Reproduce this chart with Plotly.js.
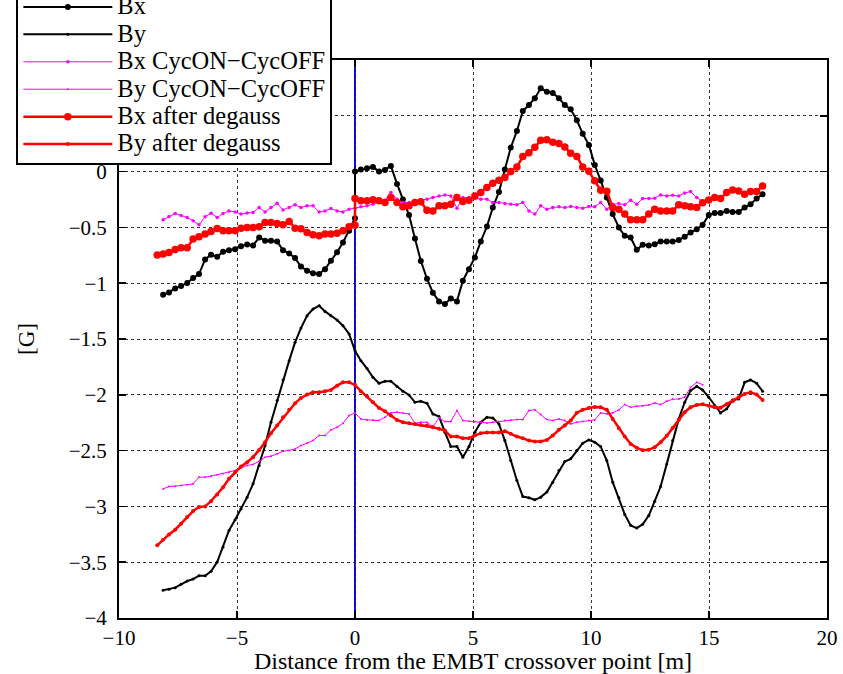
<!DOCTYPE html>
<html>
<head>
<meta charset="utf-8">
<script src="https://cdn.plot.ly/plotly-3.0.1.min.js"></script>
<style>html,body{margin:0;padding:0;background:#fff;}#chart{width:843px;height:674px;}</style>
</head>
<body>
<div id="chart"></div>
<script>
// Shared sampling positions along the beam line [m]
const xGrid = [-8.13,-7.88,-7.62,-7.37,-7.11,-6.86,-6.61,-6.35,-6.10,-5.84,-5.59,-5.34,-5.08,-4.83,-4.57,-4.32,-4.06,-3.81,-3.56,-3.30,-3.05,-2.79,-2.54,-2.29,-2.03,-1.78,-1.52,-1.27,-1.02,-0.76,-0.51,-0.25,0.00,0.25,0.51,0.76,1.02,1.27,1.52,1.78,2.03,2.29,2.54,2.79,3.05,3.30,3.56,3.81,4.06,4.32,4.57,4.83,5.08,5.33,5.59,5.84,6.10,6.35,6.60,6.86,7.11,7.37,7.62,7.87,8.13,8.38,8.64,8.89,9.14,9.40,9.65,9.91,10.16,10.41,10.67,10.92,11.18,11.43,11.68,11.94,12.19,12.45,12.70,12.95,13.21,13.46,13.72,13.97,14.22,14.48,14.73,14.99,15.24,15.49,15.75,16.00,16.26,16.51,16.76,17.02,17.27];
const xLead = [-8.38];
const crossoverX = 0;

// Bx (black, before x=0 and after x=0)
const bxLeft = [-1.103,-1.083,-1.047,-1.026,-0.999,-0.954,-0.918,-0.787,-0.745,-0.763,-0.718,-0.704,-0.695,-0.668,-0.653,-0.662,-0.590,-0.620,-0.620,-0.626,-0.704,-0.733,-0.775,-0.850,-0.889,-0.910,-0.918,-0.874,-0.799,-0.722,-0.635,-0.531,-0.417];
const bxRight = [0.0,0.018,0.03,0.042,0.0,0.015,0.051,-0.11,-0.25,-0.39,-0.60,-0.80,-0.96,-1.085,-1.163,-1.187,-1.136,-1.163,-0.978,-0.874,-0.769,-0.626,-0.492,-0.322,-0.182,0.018,0.215,0.364,0.543,0.597,0.657,0.746,0.716,0.704,0.657,0.597,0.558,0.460,0.340,0.239,0.060,-0.080,-0.232,-0.381,-0.501,-0.575,-0.590,-0.701,-0.656,-0.662,-0.650,-0.626,-0.626,-0.626,-0.614,-0.584,-0.546,-0.516,-0.477,-0.390,-0.370,-0.370,-0.352,-0.361,-0.361,-0.322,-0.292,-0.241,-0.203];

// By (black)
const byVals = [-3.752,-3.743,-3.728,-3.698,-3.669,-3.651,-3.621,-3.621,-3.582,-3.499,-3.364,-3.215,-3.120,-3.021,-2.917,-2.798,-2.634,-2.455,-2.246,-2.052,-1.867,-1.694,-1.530,-1.402,-1.291,-1.232,-1.202,-1.253,-1.291,-1.330,-1.381,-1.455,-1.605,-1.694,-1.765,-1.843,-1.897,-1.879,-1.879,-1.926,-1.968,-2.001,-2.067,-2.058,-2.076,-2.171,-2.195,-2.335,-2.464,-2.464,-2.559,-2.464,-2.335,-2.246,-2.201,-2.207,-2.261,-2.410,-2.589,-2.768,-2.912,-2.923,-2.941,-2.917,-2.872,-2.783,-2.679,-2.598,-2.574,-2.500,-2.434,-2.404,-2.425,-2.464,-2.589,-2.783,-2.923,-3.072,-3.170,-3.194,-3.161,-3.081,-2.953,-2.822,-2.619,-2.410,-2.216,-2.067,-1.962,-1.924,-1.956,-2.022,-2.097,-2.162,-2.126,-2.046,-2.037,-1.888,-1.867,-1.897,-1.968];

// Bx CycON-CycOFF (magenta)
const bxCyc = [-0.432,-0.402,-0.376,-0.393,-0.411,-0.441,-0.477,-0.405,-0.373,-0.411,-0.376,-0.352,-0.361,-0.381,-0.370,-0.367,-0.322,-0.361,-0.322,-0.283,-0.343,-0.322,-0.298,-0.322,-0.307,-0.307,-0.361,-0.352,-0.331,-0.352,-0.361,-0.337,-0.328,-0.316,-0.307,-0.292,-0.277,-0.256,-0.188,-0.247,-0.277,-0.277,-0.262,-0.256,-0.247,-0.232,-0.218,-0.209,-0.218,-0.328,-0.232,-0.232,-0.241,-0.247,-0.247,-0.277,-0.277,-0.286,-0.292,-0.298,-0.277,-0.352,-0.381,-0.307,-0.337,-0.322,-0.316,-0.322,-0.313,-0.322,-0.328,-0.313,-0.316,-0.277,-0.337,-0.292,-0.286,-0.298,-0.256,-0.292,-0.241,-0.241,-0.238,-0.209,-0.218,-0.212,-0.218,-0.191,-0.179,-0.232,-0.268];

// By CycON-CycOFF (magenta)
const byCyc = [-2.843,-2.822,-2.819,-2.813,-2.807,-2.798,-2.738,-2.738,-2.729,-2.717,-2.708,-2.693,-2.678,-2.654,-2.633,-2.624,-2.595,-2.559,-2.550,-2.529,-2.505,-2.499,-2.485,-2.455,-2.434,-2.410,-2.365,-2.365,-2.315,-2.291,-2.255,-2.186,-2.162,-2.216,-2.225,-2.225,-2.231,-2.201,-2.162,-2.156,-2.165,-2.171,-2.255,-2.246,-2.246,-2.285,-2.207,-2.240,-2.240,-2.141,-2.231,-2.237,-2.240,-2.246,-2.252,-2.246,-2.240,-2.231,-2.225,-2.222,-2.222,-2.141,-2.135,-2.177,-2.222,-2.231,-2.216,-2.231,-2.261,-2.246,-2.240,-2.231,-2.225,-2.162,-2.171,-2.162,-2.135,-2.088,-2.111,-2.103,-2.100,-2.091,-2.073,-2.088,-2.058,-2.040,-2.037,-2.022,-1.933,-1.888,-1.909];

// Bx after degauss (red)
const bxDegLeft = [-0.748,-0.739,-0.725,-0.698,-0.683,-0.683,-0.605,-0.584,-0.560,-0.537,-0.510,-0.531,-0.531,-0.531,-0.507,-0.501,-0.501,-0.495,-0.456,-0.456,-0.465,-0.477,-0.447,-0.507,-0.513,-0.546,-0.566,-0.575,-0.560,-0.560,-0.552,-0.531,-0.495,-0.480];
const bxDegRight = [-0.241,-0.262,-0.262,-0.253,-0.262,-0.277,-0.232,-0.277,-0.316,-0.307,-0.277,-0.271,-0.346,-0.352,-0.307,-0.307,-0.292,-0.232,-0.268,-0.256,-0.218,-0.188,-0.143,-0.104,-0.077,-0.053,0.0,0.042,0.135,0.17,0.218,0.281,0.286,0.263,0.251,0.221,0.165,0.136,0.042,0.003,-0.083,-0.168,-0.176,-0.322,-0.337,-0.381,-0.432,-0.432,-0.432,-0.381,-0.337,-0.352,-0.352,-0.352,-0.298,-0.307,-0.316,-0.322,-0.280,-0.255,-0.232,-0.240,-0.188,-0.164,-0.173,-0.202,-0.179,-0.179,-0.128];

// By after degauss (red)
const byDeg = [-3.349,-3.299,-3.251,-3.209,-3.156,-3.096,-3.042,-3.006,-3.000,-2.953,-2.893,-2.828,-2.753,-2.693,-2.643,-2.604,-2.559,-2.494,-2.425,-2.344,-2.276,-2.201,-2.135,-2.076,-2.028,-1.998,-1.977,-1.977,-1.968,-1.956,-1.918,-1.888,-1.888,-1.912,-1.968,-2.016,-2.067,-2.118,-2.147,-2.186,-2.225,-2.246,-2.255,-2.261,-2.270,-2.276,-2.290,-2.305,-2.320,-2.374,-2.374,-2.389,-2.389,-2.365,-2.344,-2.338,-2.338,-2.338,-2.326,-2.350,-2.374,-2.389,-2.410,-2.419,-2.419,-2.404,-2.365,-2.314,-2.276,-2.231,-2.16,-2.135,-2.118,-2.109,-2.112,-2.135,-2.216,-2.300,-2.374,-2.440,-2.475,-2.496,-2.493,-2.470,-2.425,-2.368,-2.297,-2.225,-2.156,-2.111,-2.091,-2.085,-2.097,-2.111,-2.115,-2.085,-2.058,-2.022,-1.992,-1.977,-1.998,-2.046];

const names = ['Bx','By','Bx CycON\u2212CycOFF','By CycON\u2212CycOFF','Bx after degauss','By after degauss'];
const legendName = (s) => '<span style="font-size:24.5px">' + s + '</span>';

const xSplit = xGrid.slice(0, 33).concat(xGrid.slice(32));
const xDegSplit = xLead.concat(xGrid.slice(0, 33)).concat(xGrid.slice(32));
const xDegFull = xLead.concat(xGrid);

const traces = [
  {x: xSplit, y: bxLeft.concat(bxRight), name: legendName(names[0]), mode: 'lines+markers',
   line: {color: '#000000', width: 2}, marker: {color: '#000000', size: 6}},
  {x: xGrid, y: byVals, name: legendName(names[1]), mode: 'lines+markers',
   line: {color: '#000000', width: 2}, marker: {color: '#000000', size: 3}},
  {x: xGrid.slice(0, bxCyc.length), y: bxCyc, name: legendName(names[2]), mode: 'lines+markers',
   line: {color: '#ff00ff', width: 1}, marker: {color: '#ff00ff', size: 3.5}},
  {x: xGrid.slice(0, byCyc.length), y: byCyc, name: legendName(names[3]), mode: 'lines+markers',
   line: {color: '#ff00ff', width: 1}, marker: {color: '#ff00ff', size: 2}},
  {x: xDegSplit, y: bxDegLeft.concat(bxDegRight), name: legendName(names[4]), mode: 'lines+markers',
   line: {color: '#ff0000', width: 2.5}, marker: {color: '#ff0000', size: 7.5}},
  {x: xDegFull, y: byDeg, name: legendName(names[5]), mode: 'lines+markers',
   line: {color: '#ff0000', width: 2.5}, marker: {color: '#ff0000', size: 4}}
];

const serif = 'Liberation Serif';
const axisCommon = {
  showgrid: true, gridcolor: '#333', griddash: 'dot', gridwidth: 1,
  zeroline: false, showline: true, linecolor: '#000', linewidth: 2,
  mirror: 'ticks', ticks: 'inside', ticklen: 7, tickwidth: 1.5, tickcolor: '#000',
  tickfont: {family: serif, size: 21, color: '#000'}
};

const layout = {
  width: 843, height: 674,
  margin: {l: 119, r: 16, t: 60, b: 56, autoexpand: false},
  paper_bgcolor: '#ffffff', plot_bgcolor: '#ffffff',
  font: {family: serif, size: 21, color: '#000'},
  showlegend: true,
  legend: {x: -0.145, xanchor: 'left', y: 0.8115, yanchor: 'bottom',
           bgcolor: '#ffffff', bordercolor: '#000', borderwidth: 2,
           font: {family: serif, size: 18.8, color: '#000'},
           itemwidth: 89, tracegroupgap: 0, traceorder: 'normal'},
  xaxis: Object.assign({}, axisCommon, {range: [-10, 20], tick0: 0, dtick: 5,
           title: {text: 'Distance from the EMBT crossover point [m]', font: {family: serif, size: 24, color: '#000'}, standoff: 3}}),
  yaxis: Object.assign({}, axisCommon, {range: [-4, 1], tick0: 0, dtick: 0.5,
           ticklabelstandoff: 6,
           title: {text: '[G]', font: {family: serif, size: 23, color: '#000'}, standoff: 28}}),
  shapes: [{type: 'line', xref: 'x', yref: 'paper', x0: crossoverX, x1: crossoverX, y0: 0, y1: 1,
            line: {color: '#0000ff', width: 2}, layer: 'below'}]
};

Plotly.newPlot('chart', traces, layout, {staticPlot: true, displayModeBar: false});
</script>
</body>
</html>
